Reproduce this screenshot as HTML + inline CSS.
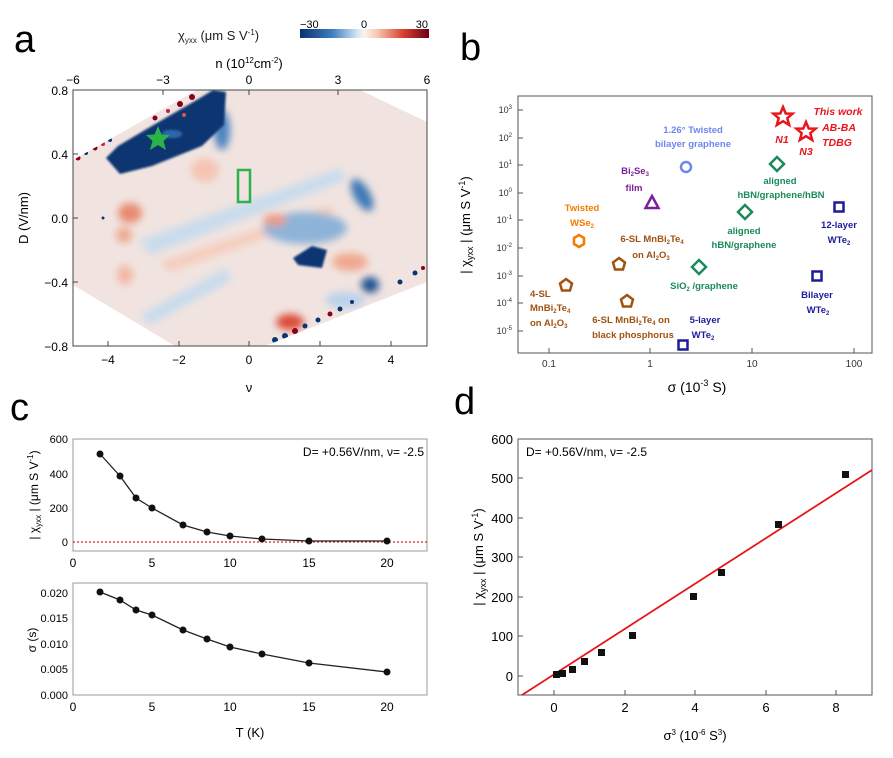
<!DOCTYPE html>
<html><head><meta charset="utf-8"><style>
html,body{margin:0;padding:0;background:#fff;}
svg{display:block;font-family:"Liberation Sans",Arial,sans-serif;}
</style></head><body>
<svg width="893" height="758" viewBox="0 0 893 758" xmlns="http://www.w3.org/2000/svg">
<defs>
<linearGradient id="cb" x1="0" x2="1" y1="0" y2="0">
<stop offset="0" stop-color="#0a3070"/><stop offset="0.25" stop-color="#3f7ec0"/><stop offset="0.45" stop-color="#d8e8f4"/><stop offset="0.5" stop-color="#f7f3f0"/><stop offset="0.6" stop-color="#f7c6b0"/><stop offset="0.8" stop-color="#d8412f"/><stop offset="1" stop-color="#690015"/>
</linearGradient>
<clipPath id="hex"><polygon points="73,160 197,90 360,90 427,122 427,282 265,346 175,346 73,285"/></clipPath>
<filter id="bl" x="-50%" y="-50%" width="200%" height="200%"><feGaussianBlur stdDeviation="4"/></filter>
<filter id="bl2" x="-50%" y="-50%" width="200%" height="200%"><feGaussianBlur stdDeviation="1"/></filter>
</defs>

<!-- Panel a -->
<text x="14" y="52" font-size="38">a</text>
<text x="178" y="40" font-size="13" fill="#222">χ<tspan font-size="8" dy="3">yxx</tspan><tspan dy="-3"> (μm S V</tspan><tspan font-size="8" dy="-5">-1</tspan><tspan dy="5">)</tspan></text>
<rect x="300" y="29" width="129" height="9" fill="url(#cb)"/>
<text x="300" y="28" font-size="11">−30</text><text x="364" y="28" font-size="11" text-anchor="middle">0</text><text x="428" y="28" font-size="11" text-anchor="end">30</text>
<text x="249" y="68" font-size="13" text-anchor="middle">n (10<tspan font-size="8" dy="-5">12</tspan><tspan dy="5">cm</tspan><tspan font-size="8" dy="-5">-2</tspan><tspan dy="5">)</tspan></text>
<g font-size="12" text-anchor="middle"><text x="73" y="84">−6</text><text x="163" y="84">−3</text><text x="249" y="84">0</text><text x="338" y="84">3</text><text x="427" y="84">6</text></g>

<g clip-path="url(#hex)">
<rect x="73" y="90" width="354" height="256" fill="#f1e4e0"/>
<g filter="url(#bl)">
<polygon points="140,240 340,168 346,180 150,255" fill="#c9dcec"/>
<polygon points="160,262 330,205 334,214 170,272" fill="#f4cdbd"/>
<polygon points="140,315 225,268 232,280 150,325" fill="#c9dcec"/>
<ellipse cx="130" cy="213" rx="12" ry="10" fill="#e88a70"/>
<ellipse cx="124" cy="235" rx="8" ry="8" fill="#eea890"/>
<ellipse cx="125" cy="275" rx="8" ry="10" fill="#f2b8a4"/>
<ellipse cx="205" cy="170" rx="14" ry="12" fill="#f4c4b2"/>
<ellipse cx="305" cy="228" rx="42" ry="16" fill="#8db3d8"/>
<ellipse cx="275" cy="220" rx="12" ry="6" fill="#ec9a80"/>
<ellipse cx="362" cy="195" rx="8" ry="18" fill="#3e78b5" transform="rotate(-30 362 195)"/>
<ellipse cx="350" cy="262" rx="18" ry="9" fill="#f0a890"/>
<ellipse cx="370" cy="285" rx="9" ry="8" fill="#1c4f91"/>
<ellipse cx="290" cy="322" rx="14" ry="8" fill="#dc4a38"/>
<ellipse cx="345" cy="300" rx="20" ry="8" fill="#b9d2ea"/>
<ellipse cx="222" cy="130" rx="8" ry="20" fill="#4b84c0"/>
</g>
<g filter="url(#bl2)">
<polygon points="106,158 118,146 150,127 200,98 213,90 226,92 224,125 202,146 152,166 120,174" fill="#0a3572"/>
<polygon points="293,258 312,246 327,250 322,268 298,265" fill="#0a3572"/>
<ellipse cx="172" cy="134" rx="10" ry="4" fill="#2e66a8"/>
</g>
<g>
<circle cx="78" cy="158" r="2.5" fill="#8a0018"/><circle cx="86" cy="153" r="2" fill="#0a3572"/><circle cx="95" cy="148" r="2.5" fill="#8a0018"/><circle cx="103" cy="144" r="2" fill="#c4223a"/><circle cx="110" cy="140" r="2" fill="#0a3572"/>
<circle cx="155" cy="118" r="2.5" fill="#8a0018"/><circle cx="168" cy="111" r="2" fill="#c4223a"/><circle cx="180" cy="104" r="3" fill="#8a0018"/><circle cx="192" cy="97" r="3" fill="#8a0018"/><circle cx="184" cy="115" r="2" fill="#d95a40"/>
<circle cx="275" cy="340" r="3" fill="#0a3572"/><circle cx="285" cy="336" r="3" fill="#0a3572"/><circle cx="295" cy="331" r="3" fill="#8a0018"/><circle cx="305" cy="326" r="2.5" fill="#0a3572"/><circle cx="318" cy="320" r="2.5" fill="#0a3572"/><circle cx="330" cy="314" r="2.5" fill="#8a0018"/><circle cx="340" cy="309" r="2.5" fill="#0a3572"/><circle cx="352" cy="302" r="2" fill="#0a3572"/><circle cx="400" cy="282" r="2.5" fill="#0a3572"/><circle cx="415" cy="273" r="2.5" fill="#0a3572"/><circle cx="423" cy="268" r="2" fill="#8a0018"/>
<circle cx="103" cy="218" r="1.5" fill="#0a3572"/>
</g>
</g>
<polygon points="158,126 161.5,134.5 170,135 163.5,141 166,150 158,145 150,150 152.5,141 146,135 154.5,134.5" fill="#2bb34a"/>
<rect x="238" y="170" width="12" height="32" fill="none" stroke="#2bb34a" stroke-width="2.5"/>
<rect x="73" y="90" width="354" height="256" fill="none" stroke="#444" stroke-width="1"/>
<g stroke="#444" stroke-width="1">
<line x1="108" y1="346" x2="108" y2="341"/><line x1="179" y1="346" x2="179" y2="341"/><line x1="249" y1="346" x2="249" y2="341"/><line x1="320" y1="346" x2="320" y2="341"/><line x1="391" y1="346" x2="391" y2="341"/>
<line x1="73" y1="154" x2="78" y2="154"/><line x1="73" y1="218" x2="78" y2="218"/><line x1="73" y1="282" x2="78" y2="282"/>
<line x1="163" y1="90" x2="163" y2="95"/><line x1="249" y1="90" x2="249" y2="95"/><line x1="338" y1="90" x2="338" y2="95"/>
</g>
<g font-size="12" text-anchor="end"><text x="68" y="95">0.8</text><text x="68" y="159">0.4</text><text x="68" y="223">0.0</text><text x="68" y="287">−0.4</text><text x="68" y="351">−0.8</text></g>
<g font-size="12" text-anchor="middle"><text x="108" y="364">−4</text><text x="179" y="364">−2</text><text x="249" y="364">0</text><text x="320" y="364">2</text><text x="391" y="364">4</text></g>
<text x="249" y="392" font-size="13" text-anchor="middle">ν</text>
<text transform="translate(28 218) rotate(-90)" font-size="13" text-anchor="middle">D  (V/nm)</text>

<!-- Panel b -->
<text x="460" y="60" font-size="38">b</text>
<rect x="518" y="96" width="354" height="257" fill="none" stroke="#555" stroke-width="1"/>
<g font-size="9" text-anchor="end" fill="#333">
<text x="512" y="113">10<tspan font-size="6" dy="-4">3</tspan></text>
<text x="512" y="141">10<tspan font-size="6" dy="-4">2</tspan></text>
<text x="512" y="168">10<tspan font-size="6" dy="-4">1</tspan></text>
<text x="512" y="196">10<tspan font-size="6" dy="-4">0</tspan></text>
<text x="512" y="223">10<tspan font-size="6" dy="-4">-1</tspan></text>
<text x="512" y="251">10<tspan font-size="6" dy="-4">-2</tspan></text>
<text x="512" y="279">10<tspan font-size="6" dy="-4">-3</tspan></text>
<text x="512" y="306">10<tspan font-size="6" dy="-4">-4</tspan></text>
<text x="512" y="334">10<tspan font-size="6" dy="-4">-5</tspan></text>
</g>
<g stroke="#555"><line x1="518" y1="110" x2="523" y2="110"/><line x1="518" y1="138" x2="523" y2="138"/><line x1="518" y1="165" x2="523" y2="165"/><line x1="518" y1="193" x2="523" y2="193"/><line x1="518" y1="220" x2="523" y2="220"/><line x1="518" y1="248" x2="523" y2="248"/><line x1="518" y1="276" x2="523" y2="276"/><line x1="518" y1="303" x2="523" y2="303"/><line x1="518" y1="331" x2="523" y2="331"/>
<line x1="549" y1="353" x2="549" y2="348"/><line x1="650" y1="353" x2="650" y2="348"/><line x1="752" y1="353" x2="752" y2="348"/><line x1="854" y1="353" x2="854" y2="348"/></g>
<g font-size="10" text-anchor="middle" fill="#333"><text x="549" y="367">0.1</text><text x="650" y="367">1</text><text x="752" y="367">10</text><text x="854" y="367">100</text></g>
<text x="697" y="392" font-size="14" text-anchor="middle">σ  (10<tspan font-size="9" dy="-6">-3</tspan><tspan dy="6"> S)</tspan></text>
<text transform="translate(470 225) rotate(-90)" font-size="13" text-anchor="middle">| χ<tspan font-size="9" dy="3">yxx</tspan><tspan dy="-3"> |  (μm S V</tspan><tspan font-size="9" dy="-5">-1</tspan><tspan dy="5">)</tspan></text>
<g fill="none" stroke-width="2.5">
<polygon points="783,107 785.7,113.5 792.6,113.7 787.3,118.2 789.2,125 783,121.2 776.8,125 778.7,118.2 773.4,113.7 780.3,113.5" stroke="#e8161b"/>
<polygon points="806,122 808.7,128.5 815.6,128.7 810.3,133.2 812.2,140 806,136.2 799.8,140 801.7,133.2 796.4,128.7 803.3,128.5" stroke="#e8161b"/>
<circle cx="686" cy="167" r="5" stroke="#6f86f0"/>
<polygon points="652,196 658.5,208 645.5,208" stroke="#7a1f9a"/>
<polygon points="579,235 584,238 584,244 579,247 574,244 574,238" stroke="#f57c00"/>
<polygon points="619,258 625,262.5 623,269.5 615,269.5 613,262.5" stroke="#a0520f"/>
<polygon points="566,279 572,283.5 570,290.5 562,290.5 560,283.5" stroke="#a0520f"/>
<polygon points="627,295 633,299.5 631,306.5 623,306.5 621,299.5" stroke="#a0520f"/>
<polygon points="777,157 784,164 777,171 770,164" stroke="#1a8a5a"/>
<polygon points="745,205 752,212 745,219 738,212" stroke="#1a8a5a"/>
<polygon points="699,260 706,267 699,274 692,267" stroke="#1a8a5a"/>
<rect x="834.5" y="202.5" width="9" height="9" stroke="#1c1c9a"/>
<rect x="812.5" y="271.5" width="9" height="9" stroke="#1c1c9a"/>
<rect x="678.5" y="340.5" width="9" height="9" stroke="#1c1c9a"/>
</g>
<g font-size="9.5" font-weight="bold" text-anchor="middle">
<g fill="#e8161b" font-style="italic" font-size="10.5"><text x="838" y="115">This work</text><text x="839" y="131">AB-BA</text><text x="837" y="146">TDBG</text><text x="782" y="143">N1</text><text x="806" y="155">N3</text></g>
<g fill="#6f86f0"><text x="693" y="133">1.26° Twisted</text><text x="693" y="147">bilayer graphene</text></g>
<g fill="#7a1f9a"><text x="635" y="174">Bi<tspan font-size="6" dy="2">2</tspan><tspan dy="-2">Se</tspan><tspan font-size="6" dy="2">3</tspan></text><text x="634" y="191">film</text></g>
<g fill="#f57c00"><text x="582" y="211">Twisted</text><text x="582" y="226">WSe<tspan font-size="6" dy="2">2</tspan></text></g>
<g fill="#a0520f"><text x="652" y="242">6-SL MnBi<tspan font-size="6" dy="2">2</tspan><tspan dy="-2">Te</tspan><tspan font-size="6" dy="2">4</tspan></text><text x="651" y="258">on Al<tspan font-size="6" dy="2">2</tspan><tspan dy="-2">O</tspan><tspan font-size="6" dy="2">3</tspan></text>
<text x="530" y="297" text-anchor="start">4-SL</text><text x="530" y="311" text-anchor="start">MnBi<tspan font-size="6" dy="2">2</tspan><tspan dy="-2">Te</tspan><tspan font-size="6" dy="2">4</tspan></text><text x="530" y="326" text-anchor="start">on Al<tspan font-size="6" dy="2">2</tspan><tspan dy="-2">O</tspan><tspan font-size="6" dy="2">3</tspan></text>
<text x="631" y="323">6-SL MnBi<tspan font-size="6" dy="2">2</tspan><tspan dy="-2">Te</tspan><tspan font-size="6" dy="2">4</tspan><tspan dy="-2"> on</tspan></text><text x="633" y="338">black phosphorus</text></g>
<g fill="#1a8a5a"><text x="780" y="184">aligned</text><text x="781" y="198">hBN/graphene/hBN</text><text x="744" y="234">aligned</text><text x="744" y="248">hBN/graphene</text><text x="704" y="289">SiO<tspan font-size="6" dy="2">2</tspan><tspan dy="-2"> /graphene</tspan></text></g>
<g fill="#1c1c9a"><text x="839" y="228">12-layer</text><text x="839" y="243">WTe<tspan font-size="6" dy="2">2</tspan></text><text x="817" y="298">Bilayer</text><text x="818" y="313">WTe<tspan font-size="6" dy="2">2</tspan></text><text x="705" y="323">5-layer</text><text x="703" y="338">WTe<tspan font-size="6" dy="2">2</tspan></text></g>
</g>

<!-- Panel c -->
<text x="10" y="420" font-size="38">c</text>
<rect x="73" y="439" width="354" height="112" fill="none" stroke="#999"/>
<rect x="73" y="583" width="354" height="112" fill="none" stroke="#999"/>
<line x1="73" y1="542" x2="427" y2="542" stroke="#e02020" stroke-dasharray="2,2" stroke-width="1.2"/>
<g font-size="11" text-anchor="end"><text x="68" y="443">600</text><text x="68" y="478">400</text><text x="68" y="512">200</text><text x="68" y="546">0</text>
<text x="68" y="597">0.020</text><text x="68" y="622">0.015</text><text x="68" y="648">0.010</text><text x="68" y="673">0.005</text><text x="68" y="699">0.000</text></g>
<g font-size="12" text-anchor="middle"><text x="73" y="567">0</text><text x="152" y="567">5</text><text x="230" y="567">10</text><text x="309" y="567">15</text><text x="387" y="567">20</text>
<text x="73" y="711">0</text><text x="152" y="711">5</text><text x="230" y="711">10</text><text x="309" y="711">15</text><text x="387" y="711">20</text></g>
<text x="250" y="737" font-size="13" text-anchor="middle">T (K)</text>
<text x="424" y="456" font-size="12" text-anchor="end">D= +0.56V/nm, ν= -2.5</text>
<text transform="translate(38 495) rotate(-90)" font-size="12" text-anchor="middle">| χ<tspan font-size="8" dy="3">yxx</tspan><tspan dy="-3"> |  (μm S V</tspan><tspan font-size="8" dy="-5">-1</tspan><tspan dy="5">)</tspan></text>
<text transform="translate(36 640) rotate(-90)" font-size="12" text-anchor="middle">σ  (s)</text>
<polyline fill="none" stroke="#222" stroke-width="1.3" points="100,454 120,476 136,498 152,508 183,525 207,532 230,536 262,539 309,541 387,541"/>
<g fill="#111"><circle cx="100" cy="454" r="3.5"/><circle cx="120" cy="476" r="3.5"/><circle cx="136" cy="498" r="3.5"/><circle cx="152" cy="508" r="3.5"/><circle cx="183" cy="525" r="3.5"/><circle cx="207" cy="532" r="3.5"/><circle cx="230" cy="536" r="3.5"/><circle cx="262" cy="539" r="3.5"/><circle cx="309" cy="541" r="3.5"/><circle cx="387" cy="541" r="3.5"/></g>
<polyline fill="none" stroke="#222" stroke-width="1.3" points="100,592 120,600 136,610 152,615 183,630 207,639 230,647 262,654 309,663 387,672"/>
<g fill="#111"><circle cx="100" cy="592" r="3.5"/><circle cx="120" cy="600" r="3.5"/><circle cx="136" cy="610" r="3.5"/><circle cx="152" cy="615" r="3.5"/><circle cx="183" cy="630" r="3.5"/><circle cx="207" cy="639" r="3.5"/><circle cx="230" cy="647" r="3.5"/><circle cx="262" cy="654" r="3.5"/><circle cx="309" cy="663" r="3.5"/><circle cx="387" cy="672" r="3.5"/></g>

<!-- Panel d -->
<text x="454" y="414" font-size="38">d</text>
<rect x="518" y="439" width="354" height="256" fill="none" stroke="#555"/>
<g stroke="#555"><line x1="518" y1="439" x2="523" y2="439"/><line x1="518" y1="478" x2="523" y2="478"/><line x1="518" y1="518" x2="523" y2="518"/><line x1="518" y1="557" x2="523" y2="557"/><line x1="518" y1="597" x2="523" y2="597"/><line x1="518" y1="636" x2="523" y2="636"/><line x1="518" y1="676" x2="523" y2="676"/>
<line x1="554" y1="695" x2="554" y2="690"/><line x1="625" y1="695" x2="625" y2="690"/><line x1="695" y1="695" x2="695" y2="690"/><line x1="766" y1="695" x2="766" y2="690"/><line x1="836" y1="695" x2="836" y2="690"/></g>
<g font-size="13" text-anchor="end"><text x="513" y="444">600</text><text x="513" y="483">500</text><text x="513" y="523">400</text><text x="513" y="562">300</text><text x="513" y="602">200</text><text x="513" y="641">100</text><text x="513" y="681">0</text></g>
<g font-size="13" text-anchor="middle"><text x="554" y="712">0</text><text x="625" y="712">2</text><text x="695" y="712">4</text><text x="766" y="712">6</text><text x="836" y="712">8</text></g>
<text x="695" y="740" font-size="13" text-anchor="middle">σ<tspan font-size="8" dy="-5">3</tspan><tspan dy="5">  (10</tspan><tspan font-size="8" dy="-5">-6</tspan><tspan dy="5"> S</tspan><tspan font-size="8" dy="-5">3</tspan><tspan dy="5">)</tspan></text>
<text transform="translate(483 557) rotate(-90)" font-size="13" text-anchor="middle">| χ<tspan font-size="9" dy="3">yxx</tspan><tspan dy="-3"> |  (μm S V</tspan><tspan font-size="9" dy="-5">-1</tspan><tspan dy="5">)</tspan></text>
<text x="526" y="456" font-size="12">D= +0.56V/nm, ν= -2.5</text>
<line x1="522" y1="695" x2="872" y2="470" stroke="#e8161b" stroke-width="1.8"/>
<g fill="#111"><rect x="842" y="471" width="7" height="7"/><rect x="775" y="521" width="7" height="7"/><rect x="718" y="569" width="7" height="7"/><rect x="690" y="593" width="7" height="7"/><rect x="629" y="632" width="7" height="7"/><rect x="598" y="649" width="7" height="7"/><rect x="581" y="658" width="7" height="7"/><rect x="569" y="666" width="7" height="7"/><rect x="559" y="670" width="7" height="7"/><rect x="553" y="671" width="7" height="7"/></g>
</svg>
</body></html>
